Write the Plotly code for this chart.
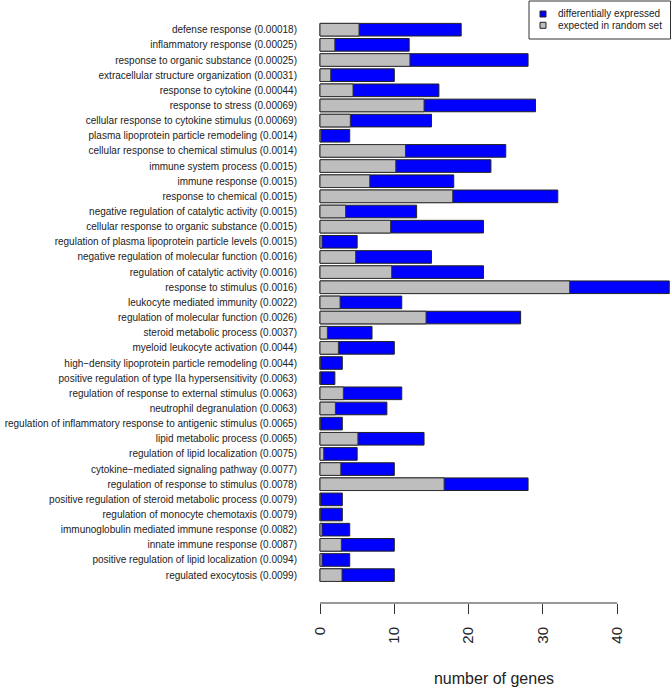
import plotly.graph_objects as go

terms = [
    "defense response", "inflammatory response", "response to organic substance",
    "extracellular structure organization", "response to cytokine", "response to stress",
    "cellular response to cytokine stimulus", "plasma lipoprotein particle remodeling",
    "cellular response to chemical stimulus", "immune system process", "immune response",
    "response to chemical", "negative regulation of catalytic activity",
    "cellular response to organic substance", "regulation of plasma lipoprotein particle levels",
    "negative regulation of molecular function", "regulation of catalytic activity",
    "response to stimulus", "leukocyte mediated immunity", "regulation of molecular function",
    "steroid metabolic process", "myeloid leukocyte activation",
    "high\u2212density lipoprotein particle remodeling",
    "positive regulation of type IIa hypersensitivity",
    "regulation of response to external stimulus", "neutrophil degranulation",
    "regulation of inflammatory response to antigenic stimulus", "lipid metabolic process",
    "regulation of lipid localization", "cytokine\u2212mediated signaling pathway",
    "regulation of response to stimulus", "positive regulation of steroid metabolic process",
    "regulation of monocyte chemotaxis", "immunoglobulin mediated immune response",
    "innate immune response", "positive regulation of lipid localization",
    "regulated exocytosis",
]
pvalues = [
    "0.00018", "0.00025", "0.00025", "0.00031", "0.00044", "0.00069", "0.00069",
    "0.0014", "0.0014", "0.0015", "0.0015", "0.0015", "0.0015", "0.0015", "0.0015",
    "0.0016", "0.0016", "0.0016", "0.0022", "0.0026", "0.0037", "0.0044", "0.0044",
    "0.0063", "0.0063", "0.0063", "0.0065", "0.0065", "0.0075", "0.0077", "0.0078",
    "0.0079", "0.0079", "0.0082", "0.0087", "0.0094", "0.0099",
]
observed = [19, 12, 28, 10, 16, 29, 15, 4, 25, 23, 18, 32, 13, 22, 5, 15, 22, 47, 11, 27,
            7, 10, 3, 2, 11, 9, 3, 14, 5, 10, 28, 3, 3, 4, 10, 4, 10]
expected = [5.25, 2.0, 12.1, 1.44, 4.44, 14.0, 4.08, 0.13, 11.5, 10.2, 6.7, 17.86, 3.45,
            9.5, 0.27, 4.8, 9.65, 33.6, 2.7, 14.27, 0.99, 2.47, 0.05, 0.03, 3.14, 2.07,
            0.05, 5.1, 0.5, 2.8, 16.7, 0.05, 0.04, 0.27, 2.87, 0.27, 2.96]
x_ticks = [0, 10, 20, 30, 40]
series_names = ["differentially expressed", "expected in random set"]
series_colors = ["#0000FF", "#BEBEBE"]

labels = [f"{t} ({p})" for t, p in zip(terms, pvalues)]

W, H = 672, 687
ML, MR, MT, MB = 318, 2, 15, 84
PW, PH = W - ML - MR, H - MT - MB


def px_x(px):  # window pixel -> paper x
    return (px - ML) / PW


def px_y(py):  # window pixel -> paper y
    return (H - MB - py) / PH


fig = go.Figure()
fig.add_trace(go.Bar(
    y=labels, x=observed, orientation="h", name=series_names[0],
    marker=dict(color=series_colors[0], line=dict(color="#222222", width=1)),
))
fig.add_trace(go.Bar(
    y=labels, x=expected, orientation="h", name=series_names[1],
    marker=dict(color=series_colors[1], line=dict(color="#333333", width=1)),
))

fig.update_layout(
    width=W, height=H,
    margin=dict(l=ML, r=MR, t=MT, b=MB, autoexpand=False),
    barmode="overlay", bargap=0.167,
    plot_bgcolor="white", paper_bgcolor="white",
    font=dict(family="Liberation Sans, Arial, sans-serif", color="#222222"),
    showlegend=False, hovermode=False,
)
fig.update_yaxes(
    type="category", categoryorder="array", categoryarray=labels,
    range=[37.84, -0.97], showgrid=False, zeroline=False, showline=False,
    automargin=False,
    ticks="", tickfont=dict(size=10, color="#222222"), ticklabelstandoff=20,
)
fig.update_xaxes(
    range=[-0.27, 47.1], showgrid=False, zeroline=False, showline=False,
    automargin=False,
    tickmode="array", tickvals=x_ticks, ticktext=[str(v) for v in x_ticks],
    ticks="outside", ticklen=10, tickwidth=1, tickcolor="#333333",
    tickangle=-90, tickfont=dict(size=15, color="#222222"), ticklabelstandoff=7,
    title=dict(text="number of genes", font=dict(size=16, color="#222222"), standoff=31),
)
fig.add_shape(type="line", xref="x", yref="paper", x0=x_ticks[0], x1=x_ticks[-1],
              y0=0, y1=0, line=dict(color="#333333", width=1))

# legend box drawn manually (R-style legend)
fig.add_shape(type="rect", xref="paper", yref="paper",
              x0=px_x(529), x1=px_x(670.5), y0=px_y(39), y1=px_y(1),
              line=dict(color="#333333", width=1), fillcolor="white", layer="above")
for i, (name, col) in enumerate(zip(series_names, series_colors)):
    cy = 14 + i * 11.3
    fig.add_shape(type="rect", xref="paper", yref="paper",
                  x0=px_x(540), x1=px_x(546), y0=px_y(cy + 3), y1=px_y(cy - 3),
                  line=dict(color="#222222", width=1), fillcolor=col, layer="above")
    fig.add_annotation(xref="paper", yref="paper", x=px_x(556), y=px_y(cy),
                       text=name, showarrow=False, xanchor="left", yanchor="middle",
                       font=dict(size=10, color="#222222"))

fig.write_html("out.html",
               config={"displayModeBar": False, "staticPlot": True},
               post_script="document.body.style.margin='0';document.body.style.overflow='hidden';")
